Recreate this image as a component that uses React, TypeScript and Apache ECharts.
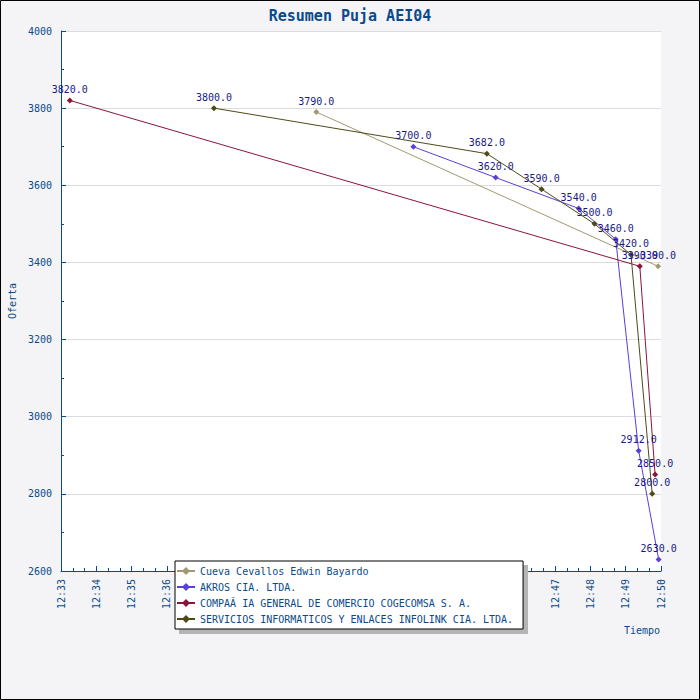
import React, { useEffect, useRef } from 'react';
import * as echarts from 'echarts';

// bid history per bidder: time of bid (hh:mm:ss) and amount
const seriesNames = [
  'Cueva Cevallos Edwin Bayardo',
  'AKROS CIA. LTDA.',
  'COMPAÃ IA GENERAL DE COMERCIO COGECOMSA S. A.',
  'SERVICIOS INFORMATICOS Y ENLACES INFOLINK CIA. LTDA.',
];
const seriesColors = ['#a09a70', '#5a3fd8', '#8a1538', '#4d4a18'];

const cuevaTimes = ['12:40:14', '12:49:55'];
const cuevaValues = [3790, 3390];

const akrosTimes = ['12:42:59', '12:45:19', '12:47:40', '12:48:43', '12:49:22', '12:49:56'];
const akrosValues = [3700, 3620, 3540, 3460, 2912, 2630];

const cogecomsaTimes = ['12:33:15', '12:49:24', '12:49:50'];
const cogecomsaValues = [3820, 3390, 2850];

const infolinkTimes = ['12:37:20', '12:45:04', '12:46:37', '12:48:07', '12:49:09', '12:49:45'];
const infolinkValues = [3800, 3682, 3590, 3500, 3420, 2800];

// axis range, minutes after 12:00
const xMin = 33;
const xMax = 50;
const yMin = 2600;
const yMax = 4000;

const BLUE = '#0a4a8a';
const FONT = 'DejaVu Sans Mono';

const toMinutes = (t: string) => {
  const [h, m, s] = t.split(':').map(Number);
  return (h - 12) * 60 + m + s / 60;
};

const pairs = (times: string[], values: number[]) =>
  times.map((t, i) => [toMinutes(t), values[i]]);

const App = () => {
  const chartRef = useRef<HTMLDivElement>(null);

  useEffect(() => {
    document.body.style.margin = '0';
    if (!chartRef.current) return;
    const chart = echarts.init(chartRef.current, null, { renderer: 'svg' });

    const allData = [
      pairs(cuevaTimes, cuevaValues),
      pairs(akrosTimes, akrosValues),
      pairs(cogecomsaTimes, cogecomsaValues),
      pairs(infolinkTimes, infolinkValues),
    ];

    chart.setOption({
      animation: false,
      backgroundColor: '#f4f4f6',
      textStyle: { fontFamily: FONT },
      title: {
        text: 'Resumen Puja AEI04',
        left: 'center',
        top: 3,
        textStyle: { color: BLUE, fontSize: 15, fontWeight: 'bold', fontFamily: FONT },
      },
      grid: {
        left: 61,
        right: 39,
        top: 31,
        bottom: 129,
        containLabel: false,
        outerBoundsMode: 'none',
        show: true,
        backgroundColor: '#ffffff',
        borderWidth: 0,
      },
      legend: {
        data: seriesNames,
        orient: 'vertical',
        left: 175,
        top: 561,
        z: 5,
        backgroundColor: '#ffffff',
        borderColor: '#000000',
        borderWidth: 1,
        padding: [5, 10, 5, 1],
        itemWidth: 18,
        itemHeight: 10,
        itemGap: 6,
        textStyle: { color: BLUE, fontSize: 10, fontFamily: FONT },
      },
      xAxis: {
        type: 'value',
        min: xMin,
        max: xMax,
        interval: 1,
        axisLine: { lineStyle: { color: BLUE } },
        axisTick: { inside: true, length: 5, lineStyle: { color: BLUE } },
        minorTick: { show: true, splitNumber: 3, length: 3, lineStyle: { color: BLUE } },
        splitLine: { show: false },
        axisLabel: {
          rotate: 90,
          margin: 8,
          color: BLUE,
          fontSize: 10,
          fontFamily: FONT,
          formatter: (v: number) => '12:' + String(v).padStart(2, '0'),
        },
      },
      yAxis: {
        type: 'value',
        min: yMin,
        max: yMax,
        interval: 200,
        name: 'Oferta',
        nameLocation: 'middle',
        nameGap: 44,
        nameTextStyle: { color: BLUE, fontSize: 10, fontFamily: FONT },
        axisLine: { show: true, lineStyle: { color: BLUE } },
        axisTick: { show: true, inside: true, length: 5, lineStyle: { color: BLUE } },
        minorTick: { show: true, splitNumber: 2, length: 3, lineStyle: { color: BLUE } },
        splitLine: { lineStyle: { color: '#dcdcdc' } },
        axisLabel: {
          margin: 9,
          color: BLUE,
          fontSize: 10,
          fontFamily: FONT,
          formatter: (v: number) => String(v),
        },
      },
      graphic: [
        {
          type: 'rect',
          z: 3,
          silent: true,
          shape: { x: 179, y: 565, width: 349, height: 69 },
          style: { fill: '#b4b4b4' },
        },
        {
          type: 'text',
          right: 40,
          top: 625,
          style: { text: 'Tiempo', fill: BLUE, font: `10px "${FONT}"` },
        },
        {
          type: 'rect',
          z: 10,
          silent: true,
          shape: { x: 0.5, y: 0.5, width: 699, height: 699 },
          style: { fill: 'none', stroke: '#000000', lineWidth: 1 },
        },
      ],
      series: seriesNames.map((name, i) => ({
        name,
        type: 'line',
        data: allData[i],
        symbol: 'diamond',
        symbolSize: 6,
        color: seriesColors[i],
        lineStyle: { width: 1, color: seriesColors[i] },
        itemStyle: { color: seriesColors[i] },
        label: {
          show: true,
          position: 'top',
          distance: 3,
          color: '#1a1a80',
          fontSize: 10,
          fontFamily: FONT,
          formatter: (p: any) => Number(p.value[1]).toFixed(1),
        },
      })),
    });

    return () => {
      chart.dispose();
    };
  }, []);

  return <div ref={chartRef} style={{ width: '700px', height: '700px' }} />;
};

export default App;
